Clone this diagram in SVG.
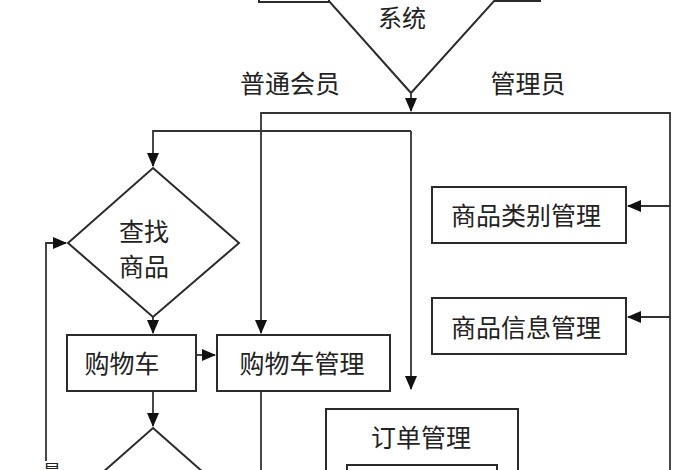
<svg xmlns="http://www.w3.org/2000/svg" width="700" height="470" viewBox="0 0 700 470">
<defs>
<style>
.box{fill:#fff;stroke:#2b2b2b;stroke-width:2}
.ln{fill:none;stroke:#333;stroke-width:1.8}
.t{font-family:"Noto Sans CJK SC","Noto Sans",sans-serif;font-size:25px;fill:#222;text-anchor:middle;dominant-baseline:central}
</style>
<marker id="ah" markerUnits="userSpaceOnUse" markerWidth="14" markerHeight="14" viewBox="0 0 14 14" refX="13" refY="7" orient="auto">
<path d="M0,1 L14,7 L0,13 Z" fill="#111"/>
</marker>
</defs>
<rect width="700" height="470" fill="#fff"/>
<g id="login">
<polygon class="box" points="411,93 328,0 411,-93 495,0"/>
<rect class="box" x="259" y="-40" width="70" height="42"/>
<rect class="box" x="495" y="-40" width="45" height="41"/>
<text class="t" x="402" y="16" style="font-size:24px">系统</text>
</g>
<g id="labels">
<text class="t" x="290" y="82">普通会员</text>
<text class="t" x="528" y="82">管理员</text>
<text class="t" x="52" y="470" style="font-size:18px">是</text>
</g>
<g id="connectors">
<path class="ln" d="M411,93 V111" marker-end="url(#ah)"/>
<path class="ln" d="M670,470 V113 H261 V333" marker-end="url(#ah)"/>
<path class="ln" d="M670,206 H628" marker-end="url(#ah)"/>
<path class="ln" d="M670,317 H628" marker-end="url(#ah)"/>
<path class="ln" d="M411,131 H153 V166" marker-end="url(#ah)"/>
<path class="ln" d="M411,131 V389" marker-end="url(#ah)"/>
<path class="ln" d="M153,316 V333" marker-end="url(#ah)"/>
<path class="ln" d="M196,355 H215" marker-end="url(#ah)"/>
<path class="ln" d="M153,391 V426" marker-end="url(#ah)"/>
<path class="ln" d="M46,461 V243 H66" marker-end="url(#ah)"/>
<path class="ln" d="M261,391 V470"/>
</g>
<g id="search">
<polygon class="box" points="153,168 239,243 153,317 68,243"/>
<text class="t" x="144" y="230">查找</text>
<text class="t" x="144" y="265">商品</text>
</g>
<g id="cart">
<rect class="box" x="67" y="335" width="129" height="56"/>
<text class="t" x="122" y="362">购物车</text>
</g>
<g id="cartmgr">
<rect class="box" x="217" y="335" width="173" height="56"/>
<text class="t" x="302" y="362">购物车管理</text>
</g>
<g id="decision2">
<polygon class="box" points="153,428 238,503 153,578 68,503"/>
</g>
<g id="catmgr">
<rect class="box" x="432" y="187" width="194" height="56"/>
<text class="t" x="526" y="214">商品类别管理</text>
</g>
<g id="infomgr">
<rect class="box" x="432" y="298" width="194" height="56"/>
<text class="t" x="526" y="326">商品信息管理</text>
</g>
<g id="ordermgr">
<rect class="box" x="326" y="409" width="192" height="90"/>
<text class="t" x="421" y="436">订单管理</text>
<rect class="box" x="347" y="465" width="150" height="40"/>
</g>
</svg>
